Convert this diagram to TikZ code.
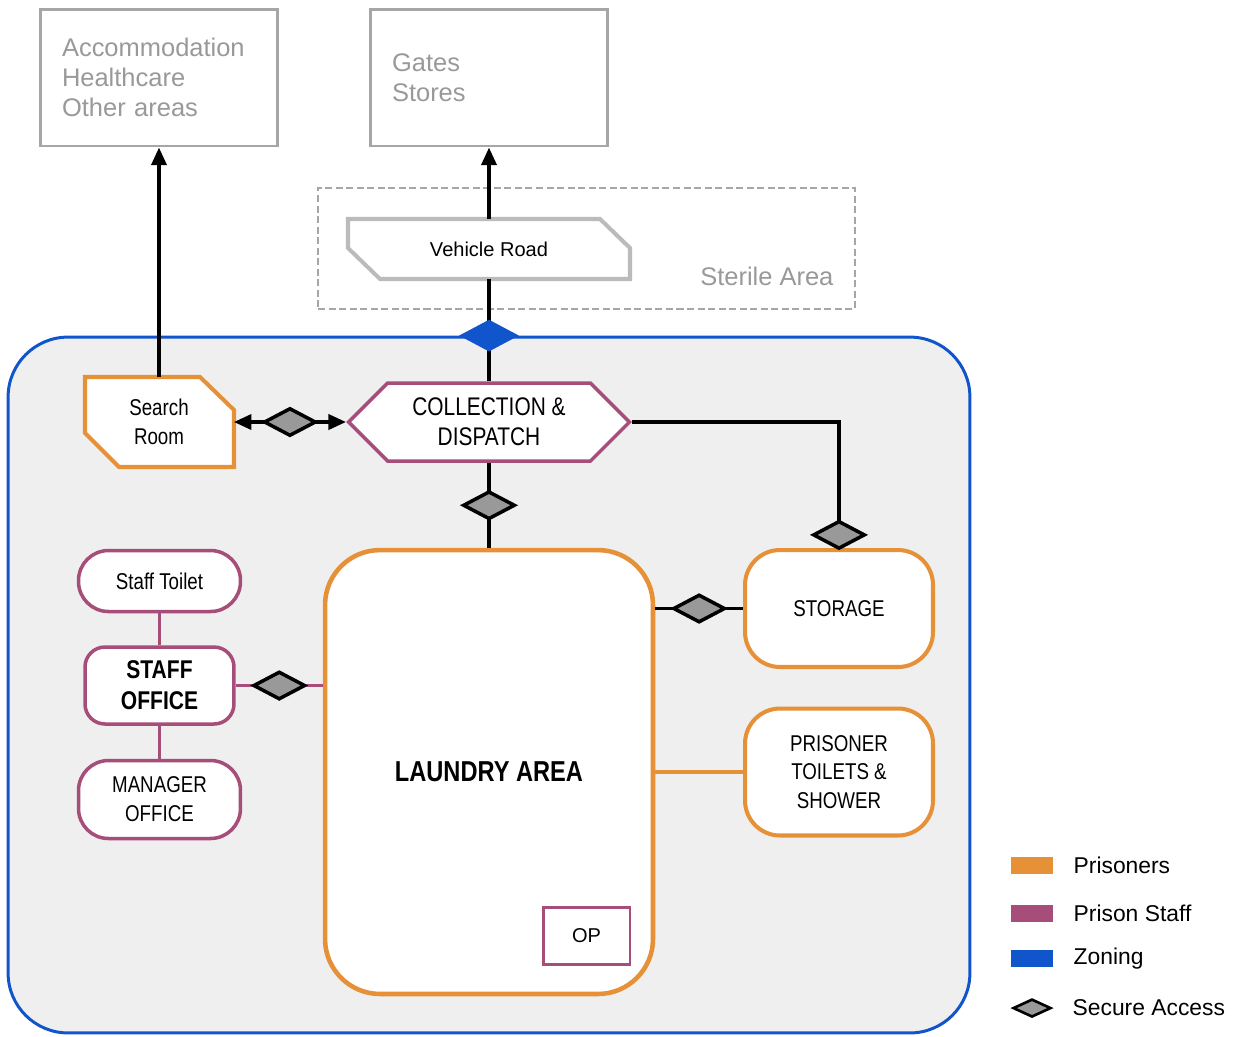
\documentclass[tikz,border=0pt]{standalone}
\usepackage{fontspec}
\setmainfont{Liberation Sans}
\newfontfamily\narrowfont[FakeStretch=0.82]{Liberation Sans}
\usetikzlibrary{positioning,arrows.meta,shapes.geometric,shapes.symbols}

\definecolor{prisoner}{HTML}{E69138}
\definecolor{staff}{HTML}{A64D79}
\definecolor{zoning}{HTML}{1155CC}
\definecolor{zonefill}{HTML}{EFEFEF}
\definecolor{boxgray}{HTML}{A6A6A6}
\definecolor{roadgray}{HTML}{BBBBBB}
\definecolor{textgray}{HTML}{999999}
\definecolor{securefill}{HTML}{999999}

\begin{document}
\begin{tikzpicture}[x=0.02cm, y=-0.02cm,
    >={Triangle[length=10pt,width=8.5pt]},
    area/.style={draw=boxgray, line width=1.7pt, minimum width=4.76cm, minimum height=2.74cm, inner xsep=0.44cm, text width=3.88cm, align=left, text=textgray, font=\fontsize{14.5}{17}\selectfont},
    prisonroom/.style={draw=prisoner, fill=white, line width=2.3pt, align=center, inner sep=0pt, font=\narrowfont\fontsize{13}{16.3}\selectfont},
    staffroom/.style={draw=staff, fill=white, line width=2pt, align=center, inner sep=0pt, font=\narrowfont\fontsize{13}{16.5}\selectfont},
    secure/.style={diamond, draw=black, fill=securefill, line width=2pt, minimum width=1.04cm, minimum height=0.56cm, inner sep=0pt},
    link/.style={draw=black, line width=2.1pt},
    staffline/.style={draw=staff, line width=1.9pt},
    prisonline/.style={draw=prisoner, line width=1.9pt},
    swatch/.style={minimum width=0.84cm, minimum height=0.34cm, inner sep=0pt},
    keytext/.style={inner sep=0pt, font=\fontsize{13}{15}\selectfont}
  ]
  \useasboundingbox (0,0) rectangle (1239,1036);

  % zones
  \node[draw=zoning, fill=zonefill, line width=1.7pt, rounded corners=1.2cm, minimum width=19.24cm, minimum height=13.92cm] (zone) at (489,685) {};
  \node[draw=boxgray, dashed, dash pattern=on 4pt off 2pt, line width=0.9pt, minimum width=10.74cm, minimum height=2.42cm,
    label={[anchor=south east, inner sep=0pt, xshift=-0.44cm, yshift=0.48cm, text=textgray, font=\fontsize{14.5}{17}\selectfont]south east:Sterile Area}]
    (sterile) at (586.5,248.5) {};

  % outside areas
  \node[area] (acc) at (159,77.5) {Accommodation\\Healthcare\\Other areas};
  \node[area] (gates) at (489,77.5) {Gates\\Stores};

  % vehicle road and search room
  \draw[draw=roadgray, line width=2.3pt, fill=white] (348,219) -- (600,219) -- (630,248) -- (630,279) -- (380,279) -- (348,248) -- cycle;
  \node[minimum width=5.64cm, minimum height=1.2cm, inner sep=0pt, font=\fontsize{11.4}{13}\selectfont] (vroad) at (489,249) {Vehicle Road};
  \draw[draw=prisoner, line width=2.3pt, fill=white] (85,377) -- (200,377) -- (234,410) -- (234,467) -- (119,467) -- (85,433) -- cycle;
  \node[minimum width=2.98cm, minimum height=1.8cm, inner sep=0pt, align=center, font=\narrowfont\fontsize{13}{16.5}\selectfont] (search) at (159,422) {Search\\Room};

  % rooms
  \node[signal, signal to=east and west, signal pointer angle=90, draw=staff, fill=white, line width=2pt, minimum width=5.62cm, minimum height=1.56cm, inner sep=0pt, align=center, font=\narrowfont\fontsize{14.5}{17}\selectfont]
    (collect) at (489,422) {COLLECTION \&\\DISPATCH};
  \node[prisonroom, line width=2.6pt, rounded corners=1.1cm, minimum width=6.56cm, minimum height=8.88cm, font=\narrowfont\bfseries\fontsize{16.4}{19}\selectfont]
    (laundry) at (489,772) {LAUNDRY AREA};
  \node[staffroom, rounded corners=0pt, line width=1.7pt, minimum width=1.74cm, minimum height=1.14cm, font=\fontsize{11.4}{13}\selectfont] (op) at (586.5,935.5) {OP};
  \node[prisonroom, rounded corners=0.7cm, minimum width=3.76cm, minimum height=2.34cm] (storage) at (839,608.5) {STORAGE};
  \node[prisonroom, rounded corners=0.7cm, minimum width=3.76cm, minimum height=2.54cm] (toilets) at (839,772) {PRISONER\\TOILETS \&\\SHOWER};
  \node[staffroom, rounded corners=0.4cm, minimum width=2.98cm, minimum height=1.54cm, font=\narrowfont\bfseries\fontsize{14.6}{17.6}\selectfont] (office) at (159.5,685.5) {STAFF\\OFFICE};
  \node[staffroom, rounded corners=0.6cm, minimum width=3.24cm, minimum height=1.22cm, above=0.64cm of office] (stafftoilet) {Staff Toilet};
  \node[staffroom, rounded corners=0.6cm, minimum width=3.24cm, minimum height=1.56cm, below=0.66cm of office] (manager) {MANAGER\\OFFICE};

  % connectors
  \draw[link,->] (search.north) -- (acc.south);
  \draw[link,->] (vroad.north) -- (gates.south);
  \draw[link] (vroad.south) -- (collect.north);
  \node[diamond, fill=zoning, minimum width=1.2cm, minimum height=0.64cm, inner sep=0pt] (zonegate) at (zone.north) {};
  \draw[link,<->] (search.east) -- (collect.west) node[secure,midway] (searchgate) {};
  \draw[link] (collect.south) -- (laundry.north) node[secure,midway] (laundrygate) {};
  \draw[link] (collect.east) -| (storage.north);
  \node[secure, anchor=south, yshift=-1.5pt] (storegate) at (storage.north) {};
  \draw[link] (laundry.east |- storage.west) -- (storage.west) node[secure,midway] (storelink) {};
  \draw[prisonline] (laundry.east) -- (toilets.west);
  \draw[staffline] (stafftoilet.south) -- (office.north);
  \draw[staffline] (office.south) -- (manager.north);
  \draw[staffline] (office.east) -- (office.east -| laundry.west) node[secure,midway] (officegate) {};

  % key
  \node[swatch, fill=prisoner] (keyprisoner) at (1032,865.5) {};
  \node[swatch, fill=staff, below=0.6cm of keyprisoner] (keystaff) {};
  \node[swatch, fill=zoning, below=0.56cm of keystaff] (keyzoning) {};
  \node[secure, line width=1.5pt, minimum width=0.76cm, minimum height=0.36cm, below=0.6cm of keyzoning] (keysecure) {};
  \node[keytext, right=0.4cm of keyprisoner] (txtprisoner) {Prisoners};
  \node[keytext, right=0.4cm of keystaff] (txtstaff) {Prison Staff};
  \node[keytext, right=0.4cm of keyzoning] (txtzoning) {Zoning};
  \node[keytext, right=0.4cm of keysecure] (txtsecure) {Secure Access};
\end{tikzpicture}
\end{document}
